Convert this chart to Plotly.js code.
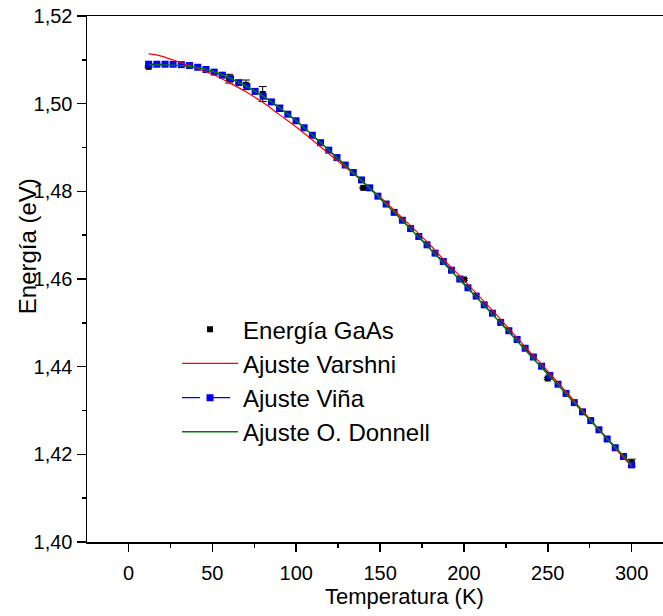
<!DOCTYPE html>
<html>
<head>
<meta charset="utf-8">
<script src="https://cdn.plot.ly/plotly-3.0.1.min.js"></script>
<style>
html, body { margin: 0; padding: 0; overflow: hidden; background: #fff; }
#chart { width: 663px; height: 616px; }
</style>
</head>
<body>
<div id="chart"></div>
<script>
// Measured data: Energía GaAs
const dataT = [12, 60, 70, 80, 90, 140, 200, 250, 300];
const dataE = [1.5084, 1.5057, 1.5043, 1.5022, 1.4989, 1.4808, 1.4599, 1.4373, 1.4181];
const dataErr = [0.0002, 0.0010, 0.0011, 0.0017, 0.0007, 0.0002, 0.0002, 0.0002, 0.0008];

// Ajuste Viña (dashed blue with square markers)
const vinaT = [12, 16.9, 21.8, 26.6, 31.5, 36.4, 41.3, 46.2, 51.1, 55.9,
  60.8, 65.7, 70.6, 75.5, 80.3, 85.2, 90.1, 95.0, 99.9, 104.7,
  109.6, 114.5, 119.4, 124.3, 129.2, 134.0, 138.9, 143.8, 148.7, 153.6,
  158.4, 163.3, 168.2, 173.1, 178.0, 182.8, 187.7, 192.6, 197.5, 202.4,
  207.3, 212.1, 217.0, 221.9, 226.8, 231.7, 236.5, 241.4, 246.3, 251.2,
  256.1, 260.9, 265.8, 270.7, 275.6, 280.5, 285.4, 290.2, 295.1, 300];
const vinaE = [1.5090, 1.5090, 1.5090, 1.5090, 1.5089, 1.5087, 1.5083, 1.5078, 1.5072, 1.5065,
  1.5057, 1.5048, 1.5039, 1.5028, 1.5017, 1.5004, 1.4990, 1.4976, 1.4961, 1.4945,
  1.4928, 1.4911, 1.4894, 1.4877, 1.4860, 1.4843, 1.4826, 1.4808, 1.4789, 1.4771,
  1.4752, 1.4734, 1.4715, 1.4697, 1.4678, 1.4659, 1.4640, 1.4620, 1.4600, 1.4580,
  1.4561, 1.4541, 1.4522, 1.4501, 1.4482, 1.4462, 1.4442, 1.4422, 1.4401, 1.4380,
  1.4360, 1.4339, 1.4318, 1.4297, 1.4277, 1.4256, 1.4235, 1.4215, 1.4195, 1.4176];

// Ajuste Varshni (red)
const varT = [12, 20, 30, 40, 50, 60, 70, 80, 90, 100, 110, 120, 130, 140, 150,
  160, 170, 180, 190, 200, 210, 220, 230, 240, 250, 260, 270, 280, 290, 300];
const varE = [1.5114, 1.5108, 1.5095, 1.5082, 1.5067, 1.5048, 1.5027, 1.5003, 1.4975, 1.4947,
  1.4916, 1.4884, 1.4853, 1.4821, 1.4787, 1.4751, 1.4715, 1.4677, 1.4636, 1.4597,
  1.4557, 1.4516, 1.4473, 1.4431, 1.4390, 1.4347, 1.4303, 1.4259, 1.4215, 1.4172];

// Ajuste O. Donnell (green)
const donT = [12, 20, 30, 40, 50, 60, 70, 80, 90, 100, 110, 120, 130, 140, 150,
  160, 170, 180, 190, 200, 210, 220, 230, 240, 250, 260, 270, 280, 290, 300];
const donE = [1.5088, 1.5088, 1.5087, 1.5083, 1.5074, 1.5059, 1.5040, 1.5018, 1.4991, 1.4961,
  1.4927, 1.4892, 1.4857, 1.4821, 1.4784, 1.4746, 1.4707, 1.4668, 1.4628, 1.4588,
  1.4548, 1.4507, 1.4466, 1.4424, 1.4383, 1.4342, 1.4300, 1.4258, 1.4217, 1.4176];

const FONT = 'Arial, "Liberation Sans", sans-serif';

const traces = [
  {
    x: dataT, y: dataE, type: 'scatter', mode: 'markers', name: 'Energía GaAs',
    marker: { symbol: 'square', size: 6, color: '#000000' },
    error_y: { type: 'data', array: dataErr, visible: true, color: '#000000', thickness: 1, width: 4 },
    legendrank: 1
  },
  {
    x: vinaT, y: vinaE, type: 'scatter', mode: 'lines+markers', name: 'Ajuste Viña',
    line: { color: '#0000ff', width: 1.2, dash: '18px,12px' },
    marker: { symbol: 'square', size: 7, color: '#0000ff' },
    legendrank: 3
  },
  {
    x: varT, y: varE, type: 'scatter', mode: 'lines', name: 'Ajuste Varshni',
    line: { color: '#ff0000', width: 1.2, shape: 'spline' },
    legendrank: 2
  },
  {
    x: donT, y: donE, type: 'scatter', mode: 'lines', name: 'Ajuste O. Donnell',
    line: { color: '#007a00', width: 1.5, shape: 'spline' },
    legendrank: 4
  }
];

const layout = {
  width: 663, height: 616,
  margin: { l: 87, r: 0, t: 16, b: 74 },
  paper_bgcolor: '#ffffff', plot_bgcolor: '#ffffff',
  separators: ', ',
  font: { family: FONT, size: 20, color: '#000000' },
  showlegend: true,
  legend: {
    x: 0.1563, y: 0.4465, xanchor: 'left', yanchor: 'top',
    font: { family: FONT, size: 24, color: '#000000' },
    bgcolor: 'rgba(0,0,0,0)', itemwidth: 56, tracegroupgap: 0
  },
  xaxis: {
    range: [-24.75, 318.7], showgrid: false, zeroline: false,
    showline: true, linecolor: '#000000', linewidth: 1.5, mirror: true,
    ticks: 'outside', ticklen: 8, tickwidth: 1.5, tickcolor: '#000000',
    tickmode: 'array', tickvals: [0, 50, 100, 150, 200, 250, 300],
    ticklabelstandoff: 4,
    minor: { dtick: 25, tick0: 0, ticks: 'outside', ticklen: 4, tickwidth: 1.5, tickcolor: '#000000', showgrid: false },
    tickfont: { family: FONT, size: 20 }
  },
  yaxis: {
    range: [1.40, 1.52], showgrid: false, zeroline: false,
    showline: true, linecolor: '#000000', linewidth: 1.5, mirror: false,
    ticks: 'outside', ticklen: 9, tickwidth: 1.5, tickcolor: '#000000',
    dtick: 0.02, tick0: 1.40, tickformat: '.2f',
    minor: { dtick: 0.01, ticks: 'outside', ticklen: 4, tickwidth: 1.5, tickcolor: '#000000', showgrid: false },
    tickfont: { family: FONT, size: 20 }
  },
  annotations: [
    {
      text: 'Energía (eV)', textangle: -90, showarrow: false,
      xref: 'paper', yref: 'y', x: -0.104, y: 1.4675, xanchor: 'center', yanchor: 'middle',
      font: { family: FONT, size: 24, color: '#000000' }
    },
    {
      text: 'Temperatura (K)', showarrow: false,
      xref: 'x', yref: 'paper', x: 164.3, y: -0.103, xanchor: 'center', yanchor: 'middle',
      font: { family: FONT, size: 22, color: '#000000' }
    }
  ]
};

Plotly.newPlot('chart', traces, layout, { displayModeBar: false, staticPlot: true });
</script>
</body>
</html>
